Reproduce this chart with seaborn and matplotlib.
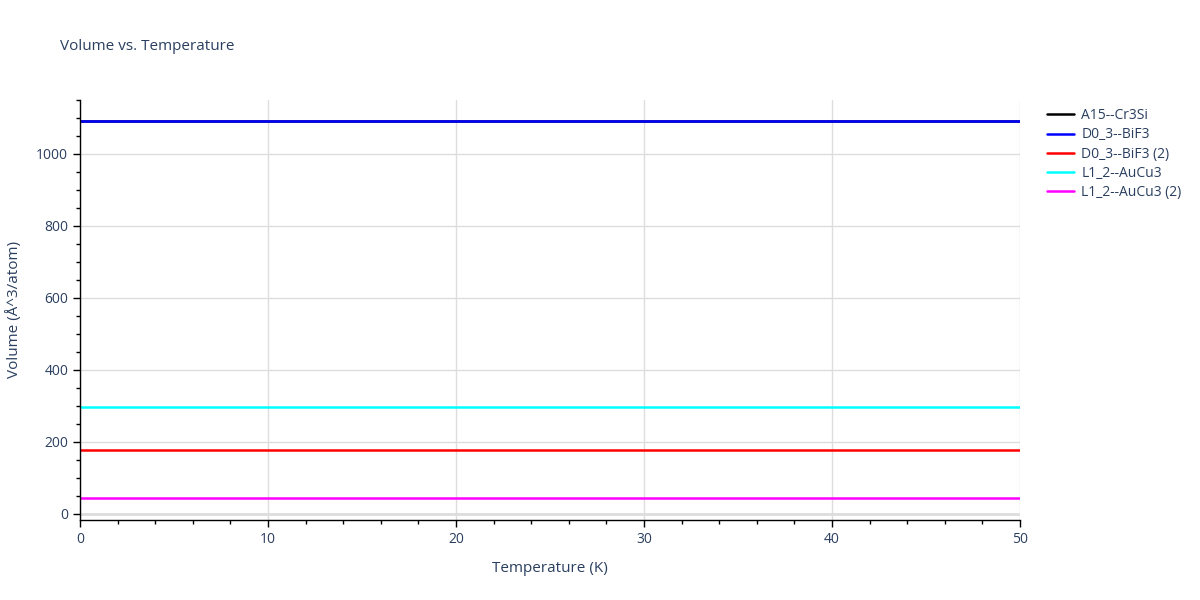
import numpy as np
import pandas as pd
import seaborn as sns
import matplotlib.pyplot as plt
from matplotlib.ticker import MultipleLocator

# data
temps = [0, 10, 20, 30, 40, 50]
names = ['A15--Cr3Si', 'D0_3--BiF3', 'D0_3--BiF3 (2)', 'L1_2--AuCu3', 'L1_2--AuCu3 (2)']
vol_a15 = [1092] * 6
vol_d03 = [1092] * 6
vol_d03_2 = [178] * 6
vol_l12 = [297] * 6
vol_l12_2 = [44] * 6
clrs = ['black', 'blue', 'red', 'cyan', 'magenta']

rows = []
for name, vals in zip(names, [vol_a15, vol_d03, vol_d03_2, vol_l12, vol_l12_2]):
    for t, v in zip(temps, vals):
        rows.append({'T': t, 'V': v, 'phase': name})
df = pd.DataFrame(rows)

sns.set_style('white')
plt.rcParams['font.family'] = ['Open Sans', 'DejaVu Sans']
txt = '#2a3f5f'

fig = plt.figure(figsize=(12, 6), dpi=100)
ax = fig.add_axes([80/1200, 80/600, 940/1200, 420/600])

sns.lineplot(data=df, x='T', y='V', hue='phase', palette=clrs, hue_order=names,
             linewidth=1.8, ax=ax, legend=True)

ax.set_xlim(0, 50)
ax.set_ylim(-16.7, 1150)
ax.xaxis.set_major_locator(MultipleLocator(10))
ax.xaxis.set_minor_locator(MultipleLocator(2))
ax.yaxis.set_major_locator(MultipleLocator(200))
ax.yaxis.set_minor_locator(MultipleLocator(50))
ax.grid(True, which='major', color='#dddddd', linewidth=1)
ax.axhline(0, color='#dddddd', linewidth=2, zorder=0)
ax.set_axisbelow(True)

for s in ['top', 'right']:
    ax.spines[s].set_visible(False)
for s in ['left', 'bottom']:
    ax.spines[s].set_color('black')
    ax.spines[s].set_linewidth(1)

ax.tick_params(which='major', direction='out', length=5, width=1, color='black',
               labelsize=10, labelcolor=txt, left=True, bottom=True)
ax.tick_params(which='minor', direction='out', length=3, width=1, color='black',
               left=True, bottom=True)

ax.set_xlabel('Temperature (K)', color=txt, fontsize=11, labelpad=10)
ax.set_ylabel('Volume (Å^3/atom)', color=txt, fontsize=11, labelpad=10)
fig.text(60/1200, 1 - 46/600, 'Volume vs. Temperature', color=txt, fontsize=11, va='center')

leg = ax.legend(loc='upper left', bbox_to_anchor=(1.015, 1.01), frameon=False,
                fontsize=10, handlelength=2.0, handletextpad=0.5, labelspacing=0.3)
for t in leg.get_texts():
    t.set_color(txt)

fig.savefig('out.png', dpi=100)
